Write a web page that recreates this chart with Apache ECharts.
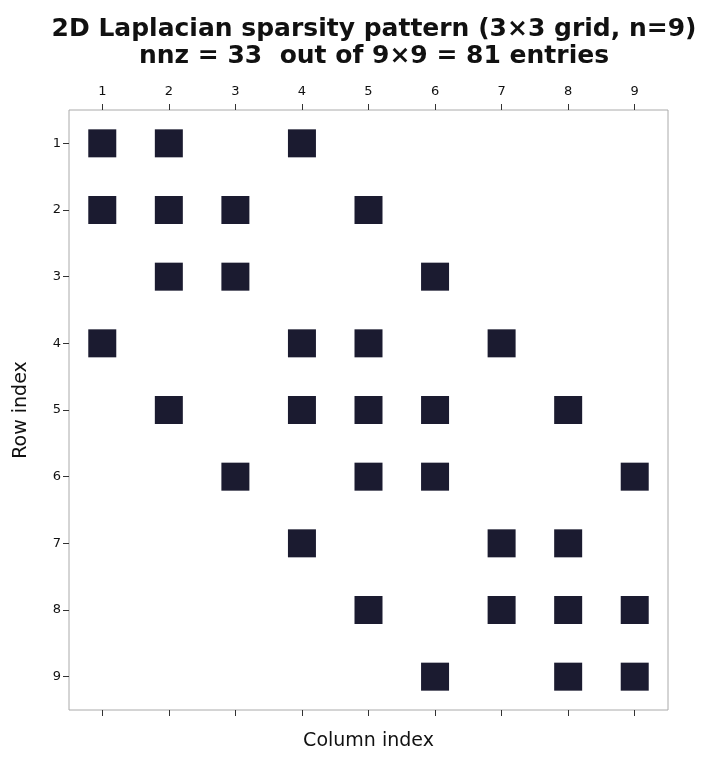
<!DOCTYPE html>
<html><head><meta charset="utf-8">
<script src="https://cdn.jsdelivr.net/npm/echarts@6/dist/echarts.min.js"></script>
<style>html,body{margin:0;padding:0;background:#fff}#c{width:706px;height:761px}</style>
</head><body><div id="c"></div>
<script>
const tickLabels = ['1','2','3','4','5','6','7','8','9'];
const rowIdx = [1,1,1,2,2,2,2,3,3,3,4,4,4,4,5,5,5,5,5,6,6,6,6,7,7,7,8,8,8,8,9,9,9];
const colIdx = [1,2,4,1,2,3,5,2,3,6,1,4,5,7,2,4,5,6,8,3,5,6,9,4,7,8,5,7,8,9,6,8,9];
const pts = rowIdx.map((r,i)=>[colIdx[i], r]);
const chart = echarts.init(document.getElementById('c'));
const fmt = v=>tickLabels[Math.round(v)-1];
const cv = [1,2,3,4,5,6,7,8,9];
function ax(extra){
  return Object.assign({type:'value',min:0.5,max:9.5,interval:1,splitLine:{show:false},
    axisLine:{show:false},axisTick:{show:true,length:6,customValues:cv,lineStyle:{color:'#333'}},
    axisLabel:{color:'#111',fontSize:13,fontFamily:'DejaVu Sans',customValues:cv,formatter:fmt,margin:10}},extra);
}
const nameStyle={fontSize:19,color:'#111',fontFamily:'DejaVu Sans'};
chart.setOption({
  animation:false,
  title:{text:'2D Laplacian sparsity pattern (3×3 grid, n=9)\nnnz = 33  out of 9×9 = 81 entries',
    left:369,textAlign:'center',top:11,
    textStyle:{fontSize:25,fontWeight:'bold',color:'#111',fontFamily:'DejaVu Sans',lineHeight:27}},
  grid:{left:69,right:38,top:110,bottom:51,show:true,borderColor:'#aaa',borderWidth:1},
  xAxis:[ax({position:'top',axisLabel:{color:'#111',fontSize:13,fontFamily:'DejaVu Sans',customValues:cv,formatter:fmt,margin:12}}),
    ax({position:'bottom',name:'Column index',nameLocation:'middle',nameGap:22,nameTextStyle:nameStyle,
      axisLabel:{show:false,customValues:cv}})],
  yAxis:[ax({inverse:true,name:'Row index',nameLocation:'middle',nameGap:38,nameTextStyle:nameStyle,
    axisLabel:{color:'#111',fontSize:13,fontFamily:'DejaVu Sans',customValues:cv,formatter:fmt,margin:8}})],
  series:[{type:'scatter',xAxisIndex:0,yAxisIndex:0,data:pts,symbol:'rect',symbolSize:28,
    itemStyle:{color:'#1b1b30',opacity:1}}]
});
</script></body></html>
